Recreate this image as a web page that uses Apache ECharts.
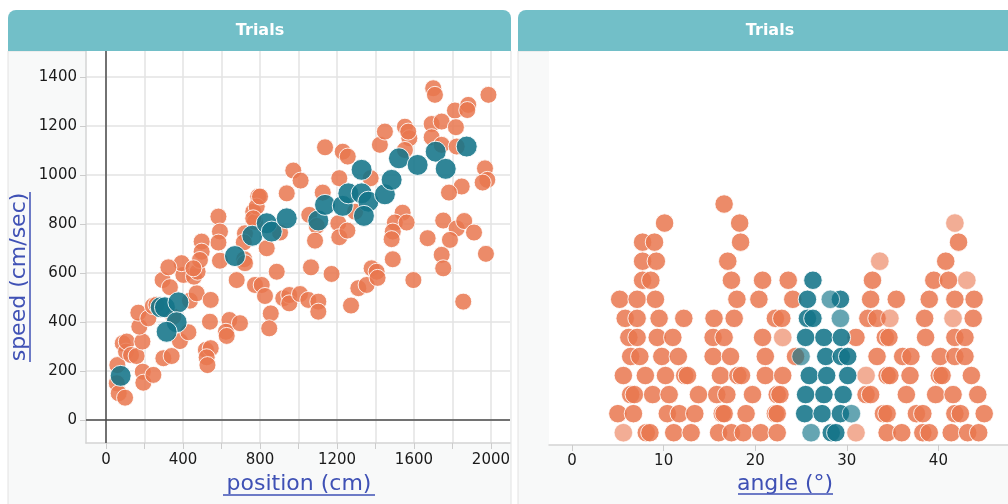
<!DOCTYPE html>
<html>
<head>
<meta charset="utf-8">
<script src="https://cdn.jsdelivr.net/npm/echarts@6/dist/echarts.min.js"></script>
<style>
  html, body { margin: 0; padding: 0; background: #fff; }
  #main { width: 1008px; height: 504px; }
</style>
</head>
<body>
<div id="main"></div>
<script>
// left graph: [position (cm), speed (cm/sec)]
var otherTrials = [
  [56,150],[66,109],[99,91],[59,224],[87,313],[104,279],[108,320],[130,265],[159,261],[189,320],
  [173,381],[168,438],[220,415],[191,197],[194,152],[246,184],[243,465],[262,470],[298,252],[341,261],
  [384,322],[428,358],[350,422],[436,487],[471,517],[544,490],[540,401],[519,286],[544,293],[523,256],
  [527,224],[641,408],[623,360],[627,343],[696,395],[679,571],[294,571],[332,542],[402,592],[457,585],
  [476,605],[774,551],[584,830],[592,769],[584,724],[497,728],[497,687],[488,653],[393,640],[324,623],
  [454,619],[592,650],[722,762],[716,725],[718,656],[722,640],[765,850],[791,912],[774,809],[783,871],[765,823],
  [800,912],[904,765],[835,701],[887,605],[939,925],[973,1018],[1011,977],[1138,1113],[1230,1095],[1256,1075],
  [1056,837],[1126,928],[1095,792],[1086,732],[1065,623],[1172,596],[1207,803],[1212,746],[1254,773],[1212,987],
  [1294,850],[1375,987],[1423,1123],[1449,1177],[1553,1197],[1576,1150],[1570,1177],[1553,1102],[1692,1208],[1744,1218],
  [1692,1154],[1744,1123],[1700,1354],[1709,1327],[1813,1263],[1882,1286],[1877,1265],[1818,1195],[1822,1116],[1987,1327],
  [1969,1027],[1981,980],[1957,969],[1848,953],[1782,928],[1541,846],[1501,806],[1562,806],[1490,769],[1484,738],
  [1490,656],[1671,742],[1752,814],[1822,782],[1861,812],[1912,765],[1787,735],[1744,674],[1752,619],[1974,678],
  [1380,619],[1406,605],[1597,571],[809,551],[826,506],[856,435],[848,374],[921,497],[952,510],[952,476],
  [1008,514],[1051,490],[1103,483],[1103,442],[1273,467],[1311,538],[1354,551],[1411,580],[1856,483]
];
var selectedTrials = [
  [76,180],[284,460],[306,460],[376,480],[367,399],[315,360],[670,669],[760,752],[835,803],[861,769],
  [939,823],[1103,814],[1138,878],[1230,874],[1259,925],[1328,1021],[1328,925],[1363,891],[1340,833],[1449,921],
  [1484,980],[1522,1068],[1619,1041],[1713,1095],[1765,1025],[1874,1116]
];

// right graph: angle (deg) of each dot, one list per stacking level, bottom level first
var angleLevels = [
  [8.1, 8.5, 11.1, 13.0, 16.0, 17.4, 18.7, 20.6, 22.4, 34.4, 36.0, 38.3, 39.0, 41.4, 43.2, 44.4],
  [5.0, 6.7, 10.4, 11.7, 13.4, 16.4, 16.6, 19.0, 22.2, 22.4, 34.0, 34.4, 37.6, 38.3, 41.8, 42.4, 45.0],
  [6.4, 6.8, 8.8, 10.6, 13.8, 15.8, 16.9, 19.7, 22.4, 22.7, 32.1, 32.6, 36.5, 39.7, 41.6, 44.3],
  [5.6, 8.0, 10.2, 12.3, 12.6, 16.2, 18.1, 18.5, 21.1, 23.0, 34.4, 34.7, 36.9, 40.1, 40.4, 43.6],
  [6.4, 7.4, 9.8, 11.6, 15.4, 17.3, 21.1, 24.4, 33.3, 36.1, 37.0, 40.2, 41.8, 42.9],
  [6.2, 7.1, 9.3, 11.0, 15.4, 16.6, 20.8, 31.0, 34.2, 34.6, 38.6, 41.8, 42.9],
  [5.8, 7.1, 9.5, 12.2, 15.5, 17.7, 22.2, 22.9, 32.3, 33.3, 38.5, 43.8],
  [5.2, 7.1, 9.1, 18.0, 20.4, 24.1, 32.6, 35.4, 39.0, 41.8, 43.9],
  [7.7, 8.6, 17.4, 20.8, 23.6, 32.8, 39.5, 41.1],
  [7.7, 9.2, 17.0, 40.8],
  [7.7, 9.0, 18.4, 42.2],
  [10.1, 18.3],
  [16.6]
];
var angleLevelsFaint = [
  [5.6, 31.0], [], [], [32.1], [], [23.0], [34.7, 41.6], [], [43.1], [33.6], [], [41.8]
];
var selectedAngleLevels = [
  [28.3, 28.8],
  [25.4, 27.3, 29.3],
  [25.5, 27.5, 29.6],
  [25.9, 27.8, 30.1],
  [27.7, 29.4, 30.1],
  [25.5, 27.5, 29.4],
  [25.7, 26.3],
  [25.7, 29.3],
  [26.3]
];
var selectedAngleLevelsFaint = [
  [26.1], [30.5], [], [], [25.0], [], [29.3], [28.2]
];

var positionTicks = [0, 200, 400, 600, 800, 1000, 1200, 1400, 1600, 1800, 2000];
var positionLabels = [0, 400, 800, 1200, 1600, 2000];
var speedTicks = [0, 200, 400, 600, 800, 1000, 1200, 1400];
var angleTicks = [0, 10, 20, 30, 40];

function flatten(levels) {
  var out = [];
  levels.forEach(function (row, level) {
    row.forEach(function (a) { out.push([a, level]); });
  });
  return out;
}

var FONT = 'DejaVu Sans';
var ORANGE = '#e9774f';
var TEAL = '#137489';
var BLUE = '#3f51b5';

var chart = echarts.init(document.getElementById('main'));

function tickLabel(extra) {
  return Object.assign({
    color: '#1a1a1a', fontSize: 15, fontFamily: FONT,
    formatter: function (v) { return String(v); }
  }, extra);
}

var option = {
  animation: false,
  backgroundColor: '#fff',
  grid: [
    { left: 86, top: 51, width: 424, height: 392 },
    { left: 549, top: 51, width: 472, height: 394 }
  ],
  xAxis: [
    {
      gridIndex: 0, type: 'value', min: -104, max: 2099,
      axisLine: { show: true, onZero: false, lineStyle: { color: '#d4d4d4', width: 1.5 } },
      axisTick: { show: true, customValues: positionTicks, length: 6, lineStyle: { color: '#cccccc' } },
      axisLabel: tickLabel({ customValues: positionLabels, margin: 10 }),
      splitLine: { show: true, lineStyle: { color: '#e3e3e3', width: 1.5 } }
    },
    {
      gridIndex: 1, type: 'value', min: -2.52, max: 47.6,
      axisLine: { show: true, onZero: false, lineStyle: { color: '#d4d4d4', width: 1.5 } },
      axisTick: { show: true, customValues: angleTicks, length: 6, lineStyle: { color: '#cccccc' } },
      axisLabel: tickLabel({ customValues: angleTicks, margin: 9 }),
      splitLine: { show: false }
    }
  ],
  yAxis: [
    {
      gridIndex: 0, type: 'value', min: -94, max: 1506,
      axisLine: { show: true, onZero: false, lineStyle: { color: '#d4d4d4', width: 1.5 } },
      axisTick: { show: true, customValues: speedTicks, length: 6, lineStyle: { color: '#cccccc' } },
      axisLabel: tickLabel({ customValues: speedTicks, margin: 9 }),
      splitLine: { show: true, lineStyle: { color: '#e3e3e3', width: 1.5 } }
    },
    {
      gridIndex: 1, type: 'value', min: -0.645, max: 20.03, show: false
    }
  ],
  graphic: [
    // panel backgrounds
    { type: 'rect', z: -10, shape: { x: 8, y: 51, width: 503, height: 470 }, style: { fill: '#f8f9f9', stroke: '#e2e2e2', lineWidth: 1 } },
    { type: 'rect', z: -10, shape: { x: 518, y: 51, width: 504, height: 470 }, style: { fill: '#f8f9f9', stroke: '#e2e2e2', lineWidth: 1 } },
    { type: 'rect', z: -9, shape: { x: 86, y: 51, width: 424, height: 392 }, style: { fill: '#ffffff' } },
    { type: 'rect', z: -9, shape: { x: 549, y: 51, width: 472, height: 394 }, style: { fill: '#ffffff' } },
    // headers
    { type: 'rect', z: 5, shape: { x: 8, y: 10, width: 503, height: 41, r: [8, 8, 0, 0] }, style: { fill: '#72bfc8' } },
    { type: 'rect', z: 5, shape: { x: 518, y: 10, width: 504, height: 41, r: [8, 8, 0, 0] }, style: { fill: '#72bfc8' } },
    { type: 'text', z: 6, x: 260, y: 31, style: { text: 'Trials', fill: '#fff', font: 'bold 16px "DejaVu Sans"', align: 'center', verticalAlign: 'middle' } },
    { type: 'text', z: 6, x: 770, y: 31, style: { text: 'Trials', fill: '#fff', font: 'bold 16px "DejaVu Sans"', align: 'center', verticalAlign: 'middle' } },
    // axis titles
    { type: 'text', z: 6, x: 19, y: 277, rotation: Math.PI / 2, style: { text: 'speed (cm/sec)', fill: BLUE, font: '22px "DejaVu Sans"', align: 'center', verticalAlign: 'middle' } },
    { type: 'line', z: 6, shape: { x1: 30, y1: 192, x2: 30, y2: 362 }, style: { stroke: BLUE, lineWidth: 1.5 } },
    { type: 'text', z: 6, x: 299, y: 484, style: { text: 'position (cm)', fill: BLUE, font: '22px "DejaVu Sans"', align: 'center', verticalAlign: 'middle' } },
    { type: 'line', z: 6, shape: { x1: 223, y1: 495, x2: 375, y2: 495 }, style: { stroke: BLUE, lineWidth: 1.5 } },
    { type: 'text', z: 6, x: 785, y: 484, style: { text: 'angle (°)', fill: BLUE, font: '22px "DejaVu Sans"', align: 'center', verticalAlign: 'middle' } },
    { type: 'line', z: 6, shape: { x1: 738, y1: 494, x2: 833, y2: 494 }, style: { stroke: BLUE, lineWidth: 1.5 } }
  ],
  series: [
    {
      type: 'scatter', xAxisIndex: 0, yAxisIndex: 0, z: 2,
      data: otherTrials, symbolSize: 17,
      itemStyle: { color: ORANGE, opacity: 0.85, borderColor: '#fff', borderWidth: 1 },
      emphasis: { disabled: true },
      markLine: {
        silent: true, symbol: ['none', 'none'], label: { show: false },
        lineStyle: { color: '#4a4a4a', type: 'solid', width: 1.5 },
        data: [{ xAxis: 0 }, { yAxis: 0 }]
      }
    },
    {
      type: 'scatter', xAxisIndex: 0, yAxisIndex: 0, z: 3,
      data: selectedTrials, symbolSize: 21,
      itemStyle: { color: TEAL, opacity: 0.88, borderColor: '#fff', borderWidth: 1 },
      emphasis: { disabled: true }
    },
    {
      type: 'scatter', xAxisIndex: 1, yAxisIndex: 1, z: 2,
      data: flatten(angleLevels), symbolSize: 18.5,
      itemStyle: { color: ORANGE, opacity: 0.85, borderColor: '#fff', borderWidth: 1 },
      emphasis: { disabled: true }
    },
    {
      type: 'scatter', xAxisIndex: 1, yAxisIndex: 1, z: 2,
      data: flatten(angleLevelsFaint), symbolSize: 18.5,
      itemStyle: { color: ORANGE, opacity: 0.6, borderColor: '#fff', borderWidth: 1 },
      emphasis: { disabled: true }
    },
    {
      type: 'scatter', xAxisIndex: 1, yAxisIndex: 1, z: 3,
      data: flatten(selectedAngleLevels), symbolSize: 18.5,
      itemStyle: { color: TEAL, opacity: 0.88, borderColor: '#fff', borderWidth: 1 },
      emphasis: { disabled: true }
    },
    {
      type: 'scatter', xAxisIndex: 1, yAxisIndex: 1, z: 3,
      data: flatten(selectedAngleLevelsFaint), symbolSize: 18.5,
      itemStyle: { color: TEAL, opacity: 0.65, borderColor: '#fff', borderWidth: 1 },
      emphasis: { disabled: true }
    }
  ]
};

chart.setOption(option);
</script>
</body>
</html>
